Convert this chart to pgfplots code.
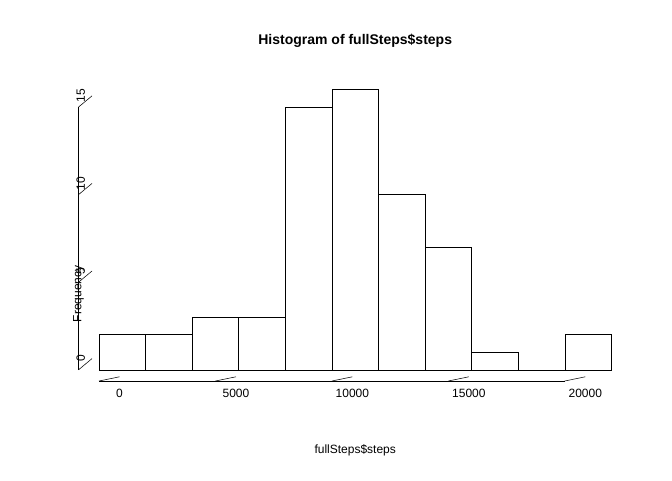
\documentclass[border=0pt]{standalone}
\usepackage{pgfplots}
\pgfplotsset{compat=1.18}
\usepackage{fontspec}
\setmainfont{Liberation Sans}
\begin{document}
\begin{tikzpicture}
\path[use as bounding box] (-58.9pt,-74.25pt) rectangle (445.1pt,285.75pt);
\begin{axis}[at={(0,0)},anchor=south west,scale only axis,width=415pt,height=227pt,
  axis lines=none,xmin=-880,xmax=22880,ymin=-0.64,ymax=16.64,clip=false]
\addplot[ybar interval,fill=white,draw=black] coordinates {
(0,2)(2000,2)(4000,3)(6000,3)(8000,15)(10000,16)(12000,10)(14000,7)(16000,1)(18000,0)(20000,2)(22000,0)};
\draw (axis cs:0,-0.64) -- (axis cs:20000,-0.64);
\pgfplotsinvokeforeach{0,5000,10000,15000,20000}{
  \draw (axis cs:#1,-0.64) -- ++(0,-5.25pt) node[anchor=north,yshift=-6pt,font=\fontsize{9}{10}\selectfont]{#1};}
\draw (axis cs:-880,0) -- (axis cs:-880,15);
\pgfplotsinvokeforeach{0,5,10,15}{
  \draw (axis cs:-880,#1) -- ++(-5.25pt,0) node[anchor=south,rotate=90,xshift=0pt,yshift=4pt,font=\fontsize{9}{10}\selectfont,inner sep=1pt]{#1};}
\node[font=\fontsize{10.5}{12}\selectfont\bfseries] at (axis cs:11000,16.64) [yshift=28pt] {Histogram of fullSteps\$steps};
\node[font=\fontsize{9}{10}\selectfont] at (axis cs:11000,-0.64) [yshift=-52pt] {fullSteps\$steps};
\node[font=\fontsize{9}{10}\selectfont,rotate=90] at (axis cs:-880,8) [xshift=-48pt] {Frequency};
\end{axis}
\end{tikzpicture}
\end{document}
